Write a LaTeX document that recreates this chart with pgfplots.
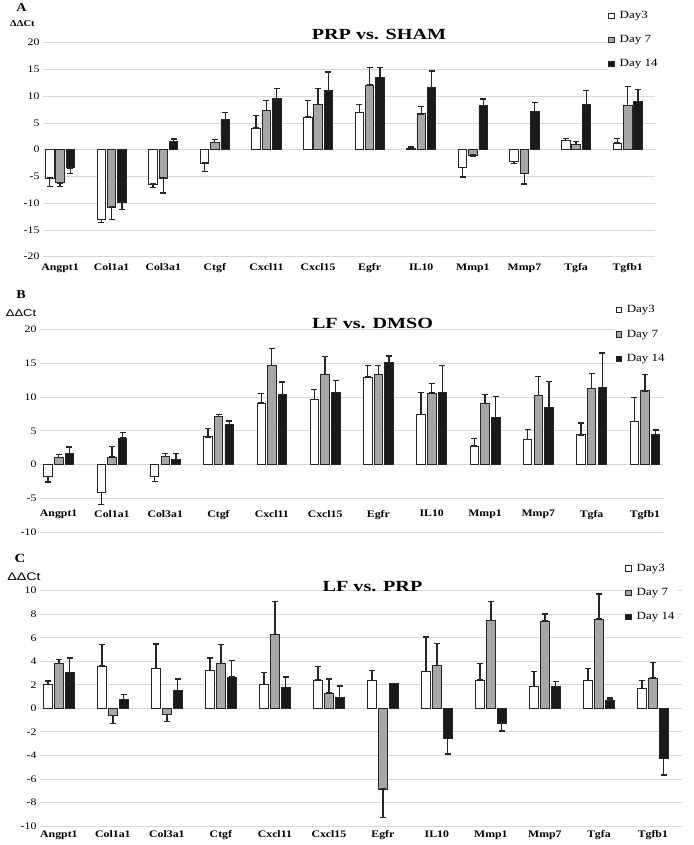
\documentclass[border=0pt]{standalone}
\usepackage{fontspec}
\setmainfont{Liberation Serif}[FakeStretch=1.18]
\newfontfamily\titlefont{Liberation Serif}[FakeStretch=1.3]
\newfontfamily\sansf{Liberation Sans}[FakeStretch=1.3]
\usepackage{pgfplots}
\pgfplotsset{compat=1.18}
\definecolor{gridc}{HTML}{D9D9D9}
\definecolor{outl}{HTML}{262626}
\definecolor{barg}{HTML}{A6A6A6}
\definecolor{bark}{HTML}{1A1A1A}
\pgfplotsset{
  panel/.style={
    scale only axis,
    axis line style={draw=none},
    major tick length=0pt,
    ymajorgrids,
    grid style={draw=gridc, line width=0.8pt},
    xtick={0,...,11},
    xticklabels={Angpt1,Col1a1,Col3a1,Ctgf,Cxcl11,Cxcl15,Egfr,IL10,Mmp1,Mmp7,Tgfa,Tgfb1},
    xticklabel style={font=\fontsize{10}{11}\selectfont\bfseries},
    yticklabel style={font=\fontsize{10}{11}\selectfont},
    /pgf/number format/assume math mode=true,
    clip=false,
    legend cell align=left,
    legend style={draw=none, fill=white, inner sep=1pt, row sep=12.5pt,
      font=\fontsize{11}{12}\selectfont, nodes={inner sep=1.5pt}},
  },
  barbase/.style={ybar, bar width=8.5pt, bar shift=0pt, draw=outl, line width=0.8pt,
    legend image code/.code={\draw[##1, line width=0.6pt] (0pt,-2.6pt) rectangle (5.2pt,2.6pt); \path (9pt,0pt);},
    error bars/y dir=both, error bars/y explicit,
    error bars/error bar style={line width=1.3pt, color=outl},
    error bars/error mark options={rotate=90, mark size=3pt, line width=1.3pt, color=outl}},
  d3/.style={barbase, fill=white},
  d7/.style={barbase, fill=barg},
  d14/.style={barbase, fill=bark},
}
\begin{document}
\begin{tikzpicture}
\path[use as bounding box] (0,0) rectangle (693pt,-845pt);
% ---------------- Panel A
\begin{axis}[panel, at={(43pt,-256.7pt)}, anchor=south west,
  width=612pt, height=214pt, xmin=-0.33, xmax=11.53, ymin=-20, ymax=20,
  ytick={-20,-15,...,20}, xticklabel style={yshift=-3.5pt},
  legend style={at={(axis description cs:0.922,1.16)}, anchor=north west}]
\addplot[d3] table[x expr=\thisrowno{0}-0.2, y index=1, y error plus index=2, y error minus index=3] {
0 -5.3 0 1.6
1 -13.1 0 0.5
2 -6.4 0 0.6
3 -2.5 0 1.6
4 4.05 2.35 0
5 6.1 3.1 0
6 7.0 1.5 0
7 0.3 0.2 0
8 -3.3 0 1.8
9 -2.2 0 0.4
10 1.7 0.35 0
11 1.25 0.8 0
};
\addplot[d7] table[x index=0, y index=1, y error plus index=2, y error minus index=3] {
0 -6.2 0 0.7
1 -10.7 0 2.4
2 -5.3 0 2.8
3 1.4 0.5 0
4 7.35 1.85 0
5 8.5 3.0 0
6 12.1 3.3 0
7 6.7 1.4 0
8 -1.0 0 0.25
9 -4.5 0 1.9
10 0.93 0.63 0
11 8.2 3.6 0
};
\addplot[d14] table[x expr=\thisrowno{0}+0.2, y index=1, y error plus index=2, y error minus index=3] {
0 -3.4 0 1.0
1 -9.8 0 1.4
2 1.56 0.44 0
3 5.7 1.2 0
4 9.5 2.0 0
5 11.0 3.5 0
6 13.5 1.9 0
7 11.6 3.1 0
8 8.2 1.3 0
9 7.1 1.75 0
10 8.5 2.6 0
11 9.0 2.2 0
};
\legend{Day3,Day 7,Day 14}
\end{axis}
% ---------------- Panel B
\begin{axis}[panel, at={(40pt,-532.3pt)}, anchor=south west,
  width=623pt, height=203pt, xmin=-0.35, xmax=11.34, ymin=-10, ymax=20,
  ytick={-10,-5,...,20}, xticklabel style={yshift=25.5pt},
  legend style={at={(axis description cs:0.922,1.13)}, anchor=north west}]
\addplot[d3] table[x expr=\thisrowno{0}-0.2, y index=1, y error plus index=2, y error minus index=3] {
0 -1.8 0 0.76
1 -4.1 0 1.8
2 -1.8 0 0.66
3 4.1 1.2 0
4 9.1 1.4 0
5 9.65 1.45 0
6 12.95 1.75 0
7 7.44 3.26 0
8 2.76 1.14 0
9 3.7 1.5 0
10 4.4 1.76 0
11 6.35 3.6 0
};
\addplot[d7] table[x index=0, y index=1, y error plus index=2, y error minus index=3] {
0 1.03 0.45 0
1 1.13 1.57 0
2 1.23 0.4 0
3 7.14 0.3 0
4 14.7 2.5 0
5 13.35 2.65 0
6 13.3 1.3 0
7 10.6 1.4 0
8 9.0 1.4 0
9 10.2 2.8 0
10 11.3 2.15 0
11 10.9 2.4 0
};
\addplot[d14] table[x expr=\thisrowno{0}+0.2, y index=1, y error plus index=2, y error minus index=3] {
0 1.63 0.97 0
1 3.94 0.86 0
2 0.79 0.84 0
3 5.9 0.55 0
4 10.4 1.8 0
5 10.7 1.7 0
6 15.1 0.96 0
7 10.7 4.0 0
8 6.95 3.1 0
9 8.4 3.9 0
10 11.4 5.1 0
11 4.5 0.6 0
};
\legend{Day3,Day 7,Day 14}
\end{axis}
% ---------------- Panel C
\begin{axis}[panel, at={(40pt,-826pt)}, anchor=south west,
  width=642pt, height=235.3pt, xmin=-0.35, xmax=11.54, ymin=-10, ymax=10,
  ytick={-10,-8,...,10}, xticklabel style={yshift=-1pt},
  legend style={at={(axis description cs:0.91,1.125)}, anchor=north west}]
\addplot[d3] table[x expr=\thisrowno{0}-0.2, y index=1, y error plus index=2, y error minus index=3] {
0 2.04 0.28 0
1 3.6 1.8 0
2 3.4 2.07 0
3 3.23 1.05 0
4 2.0 1.03 0
5 2.41 1.13 0
6 2.38 0.85 0
7 3.12 2.94 0
8 2.41 1.39 0
9 1.87 1.27 0
10 2.35 1.05 0
11 1.7 0.68 0
};
\addplot[d7] table[x index=0, y index=1, y error plus index=2, y error minus index=3] {
0 3.8 0.34 0
1 -0.6 0 0.67
2 -0.54 0 0.59
3 3.8 1.6 0
4 6.26 2.81 0
5 1.3 1.19 0
6 -6.86 0 2.44
7 3.63 1.87 0
8 7.48 1.61 0
9 7.42 0.6 0
10 7.59 2.13 0
11 2.58 1.32 0
};
\addplot[d14] table[x expr=\thisrowno{0}+0.2, y index=1, y error plus index=2, y error minus index=3] {
0 3.03 1.25 0
1 0.76 0.4 0
2 1.53 0.96 0
3 2.66 1.39 0
4 1.76 0.9 0
5 0.91 0.99 0
6 2.1 0 0
7 -2.55 0 1.33
8 -1.25 0 0.68
9 1.87 0.4 0
10 0.71 0.17 0
11 -4.25 0 1.42
};
\legend{Day3,Day 7,Day 14}
\end{axis}
% ---------------- annotations
\node[font=\fontsize{12}{13}\selectfont\bfseries] at (21.5pt,-8pt) {A};
\node[font=\fontsize{9}{10}\selectfont\bfseries] at (22.5pt,-24pt) {ΔΔCt};
\node[font=\titlefont\fontsize{15.5}{17}\selectfont\bfseries] at (379pt,-34pt) {PRP vs. SHAM};
\node[font=\fontsize{12}{13}\selectfont\bfseries] at (21pt,-295pt) {B};
\node[font=\sansf\fontsize{10}{11}\selectfont] at (21pt,-313.5pt) {ΔΔCt};
\node[font=\titlefont\fontsize{15.5}{17}\selectfont\bfseries] at (372.5pt,-323pt) {LF vs. DMSO};
\node[font=\fontsize{12.5}{13}\selectfont\bfseries] at (20pt,-558pt) {C};
\node[font=\sansf\fontsize{11}{12}\selectfont] at (24pt,-577pt) {ΔΔCt};
\node[font=\titlefont\fontsize{15.5}{17}\selectfont\bfseries] at (372.5pt,-587pt) {LF vs. PRP};
\end{tikzpicture}
\end{document}
